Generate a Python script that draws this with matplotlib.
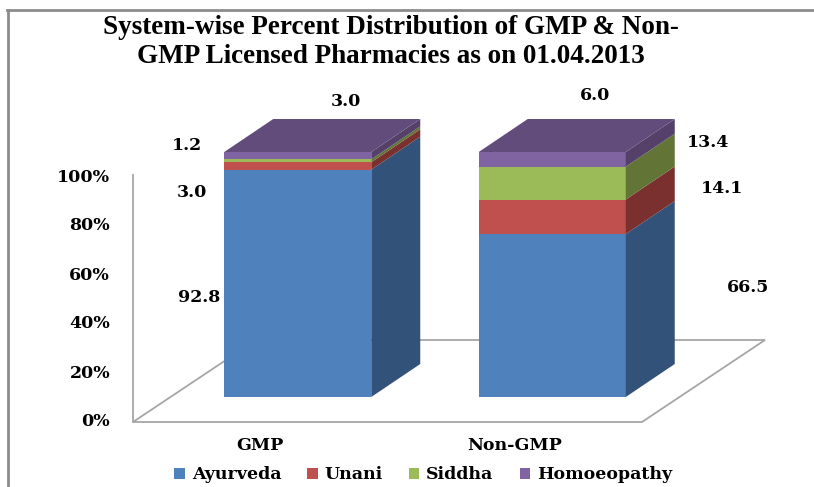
import matplotlib.pyplot as plt
from matplotlib.patches import Polygon, Patch
from matplotlib.lines import Line2D

categories = ["GMP", "Non-GMP"]
systems = ["Ayurveda", "Unani", "Siddha", "Homoeopathy"]
gmp = [92.8, 3.0, 1.2, 3.0]
non_gmp = [66.5, 14.1, 13.4, 6.0]
yticks = [0, 20, 40, 60, 80, 100]

front = ["#4F81BD", "#C0504D", "#9BBB59", "#8064A2"]
side = ["#32527A", "#7A302E", "#627537", "#544069"]
top_col = "#624C7C"

title_font = "Liberation Serif"
font = "DejaVu Serif"

# pixel -> data mapping (front plane): x 0..2 over 133..642 px, y 0..100 over 422..177 px
W, H = 814, 487
ux = 2 / 509.0
uy = 100 / 245.0

fig = plt.figure(figsize=(W / 100, H / 100), dpi=100)
ax = fig.add_axes([0, 0, 1, 1])
ax.set_xlim(-133 * ux, (W - 133) * ux)
ax.set_ylim(-(H - 422) * uy, 422 * uy)
ax.axis("off")

# depth projection
floor_dx, floor_dy = 123 * ux, 82 * uy
bar_off_dx, bar_off_dy = 37.5 * ux, 25 * uy
bar_dx, bar_dy = 49 * ux, 33 * uy
bar_w = 147 * ux

# floor and vertical axis line
floor = Polygon([(0, 0), (2, 0), (2 + floor_dx, floor_dy), (floor_dx, floor_dy)],
                closed=True, facecolor="white", edgecolor="#A6A6A6", lw=1.3, zorder=1)
ax.add_patch(floor)
ax.plot([0, 0], [0, 101], color="#A6A6A6", lw=1.3, zorder=1)

for i, vals in enumerate([gmp, non_gmp]):
    x0 = i + 0.5 - bar_w / 2 + bar_off_dx
    x1 = x0 + bar_w
    base = bar_off_dy
    for j, v in enumerate(vals):
        y0, y1 = base, base + v
        ax.add_patch(Polygon([(x0, y0), (x1, y0), (x1, y1), (x0, y1)],
                             facecolor=front[j], edgecolor="none", zorder=3))
        ax.add_patch(Polygon([(x1, y0), (x1 + bar_dx, y0 + bar_dy),
                              (x1 + bar_dx, y1 + bar_dy), (x1, y1)],
                             facecolor=side[j], edgecolor="none", zorder=3))
        base = y1
    ax.add_patch(Polygon([(x0, base), (x1, base), (x1 + bar_dx, base + bar_dy),
                          (x0 + bar_dx, base + bar_dy)],
                         facecolor=top_col, edgecolor="none", zorder=3))

# y tick labels
for t in yticks:
    ax.text(-23 * ux, t, f"{t}%", ha="right", va="center", fontsize=12.5,
            fontweight="bold", family=font)

# category labels
for i, c in enumerate(categories):
    ax.text(i + 0.5, -23 * uy, c, ha="center", va="center", fontsize=12.5,
            fontweight="bold", family=font)

# data labels, where Excel put them
label_pos = [
    [(0.258, 51.0), (0.232, 93.5), (0.212, 112.7), (0.837, 131.0)],
    [(2.416, 55.1), (2.314, 95.5), (2.259, 113.9), (1.815, 133.1)],
]
for vals, pos in zip([gmp, non_gmp], label_pos):
    for v, (px, py) in zip(vals, pos):
        ax.text(px, py, f"{v:.1f}", ha="center", va="center", fontsize=12.5,
                fontweight="bold", family=font)

fig.text(0.480, 0.913, "System-wise Percent Distribution of GMP & Non-\nGMP Licensed Pharmacies as on 01.04.2013",
         ha="center", va="center", fontsize=19.5, fontweight="bold", family=title_font,
         linespacing=1.2)

handles = [Patch(facecolor=c, edgecolor="none") for c in front]
fig.legend(handles, systems, loc="center", bbox_to_anchor=(0.52, 0.025), ncol=4,
           frameon=False, handlelength=0.6, handleheight=0.6, handletextpad=0.4,
           columnspacing=1.5, prop={"family": font, "weight": "bold", "size": 12.5})

# chart border (cropped on right and bottom)
fig.add_artist(Line2D([8 / W, 8 / W], [0, 1 - 10 / H], color="#8C8C8C", lw=2))
fig.add_artist(Line2D([7 / W, 1], [1 - 10 / H, 1 - 10 / H], color="#8C8C8C", lw=2))

plt.savefig("out.png", dpi=100)
